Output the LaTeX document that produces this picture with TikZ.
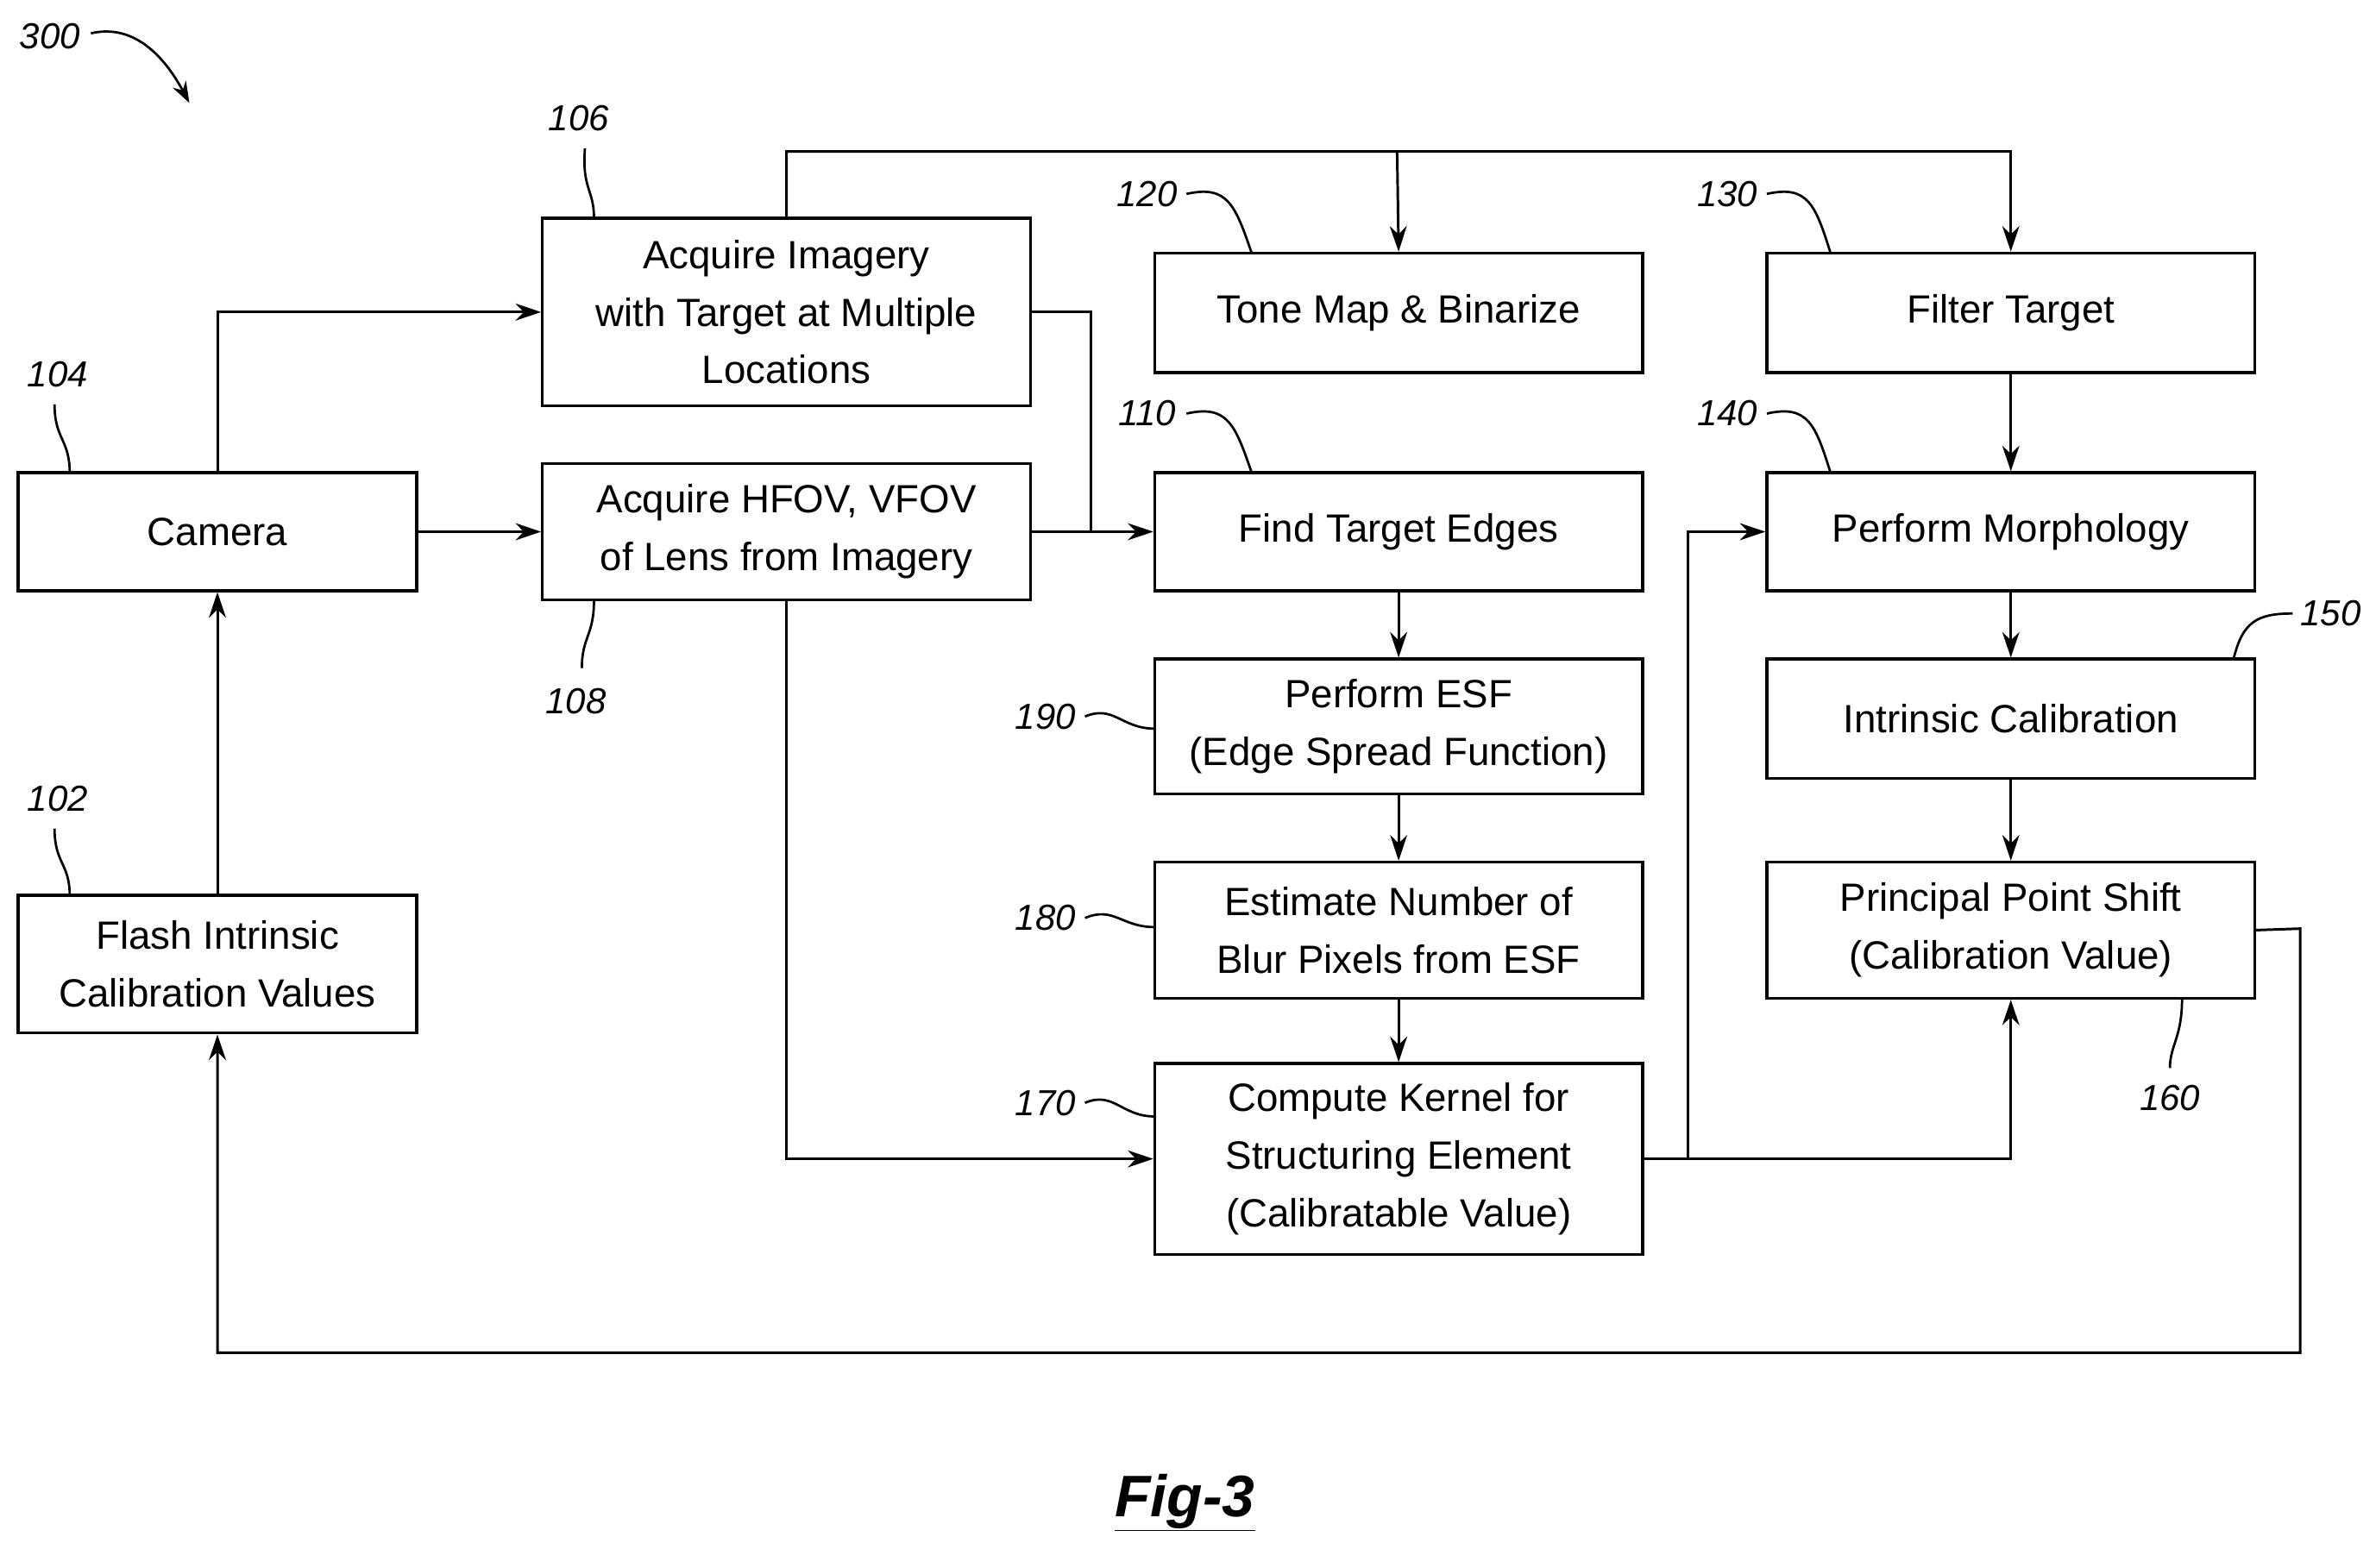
\documentclass[tikz,border=0pt]{standalone}
\usepackage{fontspec}
\setmainfont{Liberation Sans}
\usetikzlibrary{arrows.meta}
\begin{document}
\begin{tikzpicture}[x=0.05cm,y=-0.05cm,
 box/.style={draw,line width=2.6pt,inner sep=0pt,align=center,font=\fontsize{37}{54}\selectfont},
 ln/.style={line width=2.4pt},
 ar/.style={ln,-{Stealth[length=24pt,width=16pt]}},
 lab/.style={font=\fontsize{34}{38}\selectfont\itshape},
 ld/.style={line width=2.2pt}]
\useasboundingbox (0,0) rectangle (1568,1035);
\def\bx#1#2#3#4#5#6{\node[box,minimum width=#4*0.05cm-#2*0.05cm,minimum height=#5*0.05cm-#3*0.05cm] (#1) at ({(#2+#4)/2},{(#3+#5)/2}) {#6};}
\bx{cam}{12}{312}{275}{390}{Camera}
\bx{fl}{12}{591}{275}{682}{Flash Intrinsic\\Calibration Values}
\bx{acq}{358}{144}{680}{268}{Acquire Imagery\\with Target at Multiple\\Locations}
\bx{hf}{358}{306}{680}{396}{Acquire HFOV, VFOV\\of Lens from Imagery}
\bx{tone}{762}{167}{1084}{246}{Tone Map \& Binarize}
\bx{filt}{1166}{167}{1488}{246}{Filter Target}
\bx{find}{762}{312}{1084}{390}{Find Target Edges}
\bx{morph}{1166}{312}{1488}{390}{Perform Morphology}
\bx{esf}{762}{435}{1084}{524}{Perform ESF\\(Edge Spread Function)}
\bx{intr}{1166}{435}{1488}{514}{Intrinsic Calibration}
\bx{est}{762}{569}{1084}{659}{Estimate Number of\\Blur Pixels from ESF}
\bx{pp}{1166}{569}{1488}{659}{Principal Point Shift\\(Calibration Value)}
\bx{comp}{762}{702}{1084}{828}{Compute Kernel for\\Structuring Element\\(Calibratable Value)}
\coordinate (j1) at (720,351);
\draw[ar] (cam.north) |- (acq.west);
\draw[ar] (cam.east) -- (hf.west);
\draw[ar] (hf.east) -- (find.west);
\draw[ln] (acq.east) -| (j1);
\draw[ar] (acq.north) |- (922,100) -- (tone.north);
\draw[ar] (922,100) -| (filt.north);
\draw[ar] (filt) -- (morph);
\draw[ar] (find) -- (esf);
\draw[ar] (esf) -- (est);
\draw[ar] (est) -- (comp);
\draw[ar] (morph) -- (intr);
\draw[ar] (intr) -- (pp);
\draw[ar] (hf.south) |- (comp.west);
\draw[ar] (comp.east) -- (1114,765) |- (morph.west);
\draw[ar] (comp.east) -| (pp.south);
\draw[ar] (pp.east) -- (1518,613) -- (1518,893) -| (fl.south);
\draw[ar] (fl) -- (cam);
\node[lab] (l106) at (382,78) {106};
\draw[ld] (386,98) .. controls (384,125) and (392,125) .. (392,144);
\node[lab] (l104) at (38,247) {104};
\draw[ld] (36,267) .. controls (36,290) and (46,290) .. (46,312);
\node[lab] (l102) at (38,527) {102};
\draw[ld] (36,547) .. controls (36,570) and (46,570) .. (46,591);
\node[lab] (l108) at (380,463) {108};
\draw[ld] (392,396) .. controls (392,420) and (384,420) .. (384,441);
\node[lab] (l120) at (757,128) {120};
\draw[ld] (783,128) .. controls (810,122) and (815,135) .. (826,167);
\node[lab] (l130) at (1140,128) {130};
\draw[ld] (1166,128) .. controls (1193,122) and (1198,135) .. (1208,167);
\node[lab] (l110) at (757,273) {110};
\draw[ld] (783,273) .. controls (810,267) and (815,280) .. (826,312);
\node[lab] (l140) at (1140,273) {140};
\draw[ld] (1166,273) .. controls (1193,267) and (1198,280) .. (1208,312);
\node[lab] (l190) at (690,473) {190};
\draw[ld] (716,473) .. controls (735,465) and (740,481) .. (762,481);
\node[lab] (l180) at (690,606) {180};
\draw[ld] (716,606) .. controls (735,598) and (740,612) .. (762,612);
\node[lab] (l170) at (690,728) {170};
\draw[ld] (716,728) .. controls (735,720) and (740,737) .. (762,737);
\node[lab] (l150) at (1538,405) {150};
\draw[ld] (1474,435) .. controls (1480,410) and (1490,405) .. (1513,405);
\node[lab] (l160) at (1432,725) {160};
\draw[ld] (1440,659) .. controls (1440,685) and (1432,690) .. (1432,705);
\node[lab] (l300) at (33,24) {300};
\draw[ld,-{Stealth[length=20pt,width=14pt]}] (60,22) .. controls (90,15) and (110,40) .. (125,68);
\node[font=\fontsize{55}{60}\selectfont\bfseries\itshape] (fig) at (782,992) {\underline{Fig-3}};
\end{tikzpicture}
\end{document}
